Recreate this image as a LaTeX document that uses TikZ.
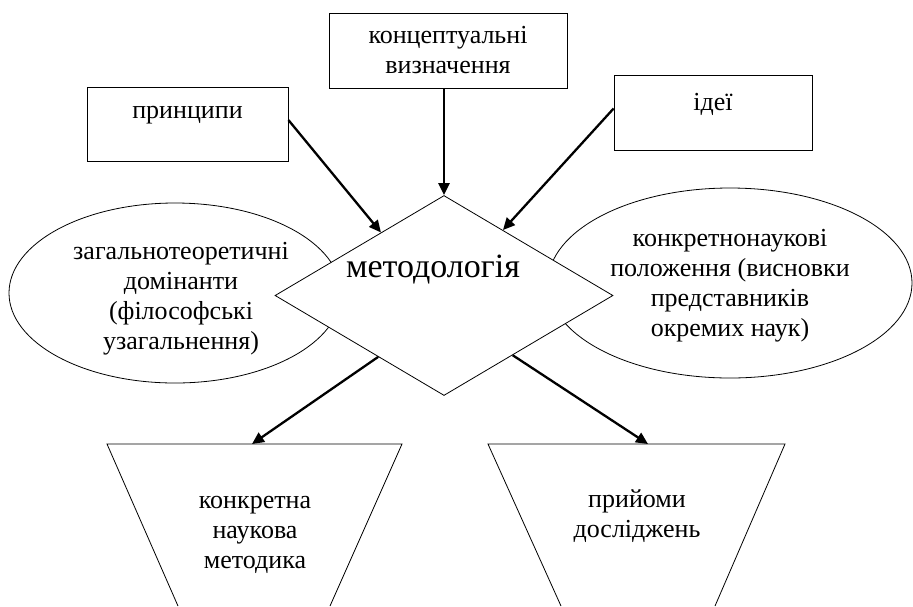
\documentclass[tikz,border=0pt]{standalone}
\usepackage{fontspec}
\setmainfont{Liberation Serif}
\usetikzlibrary{arrows.meta, shapes.geometric}

\begin{document}
\begin{tikzpicture}[x=1pt, y=-1pt, >={Triangle[length=12pt, width=11pt]},
    txt/.style={font=\fontsize{26}{30}\selectfont, align=center},
    box/.style={draw, line width=0.8pt, inner sep=0pt},
    oval/.style={draw, ellipse, line width=0.8pt, inner sep=0pt},
    feed/.style={->, line width=2.3pt}]
        \useasboundingbox (0,0) rectangle (913,606);

        % --- sources on top ---
        \node[box, minimum width=201pt, minimum height=74pt] (princ) at (187.5,124) {};
        \node[txt] (princlbl) at (187.5,115) {принципи};
        \node[box, txt, minimum width=238pt, minimum height=75pt] (concept) at (448,50.5) {концептуальні\\визначення};
        \node[box, minimum width=198pt, minimum height=75pt] (ideas) at (713,112.5) {};
        \node[txt] (ideaslbl) at (713,104) {ідеї};

        % --- side ellipses, partly under the diamond ---
        \node[oval, minimum width=332pt, minimum height=180pt] (general) at (175,293) {};
        \node[txt] (generallbl) at (181,299) {загальнотеоретичні\\домінанти\\(філософські\\узагальнення)};
        \node[oval, minimum width=364pt, minimum height=190pt] (special) at (730,283) {};
        \node[txt] (speciallbl) at (730,286) {конкретнонаукові\\положення (висновки\\представників\\окремих наук)};

        % --- methodology ---
        \node[draw, diamond, fill=white, line width=0.8pt, inner sep=0pt,
              minimum width=338pt, minimum height=200pt] (meth) at (444,295.5) {};
        \node[font=\fontsize{34}{38}\selectfont] (methlbl) at (433,270) {методологія};

        % --- results below, cut by the page edge ---
        \draw[line width=0.8pt] (178,606) -- (107,444) -- (402,444) -- (330,606);
        \draw[line width=0.8pt] (561,606) -- (488,444) -- (785,444) -- (715,606);
        \node[txt] (method) at (255,535) {конкретна\\наукова\\методика};
        \node[txt] (techn) at (637,516) {прийоми\\досліджень};
        \coordinate (methtop) at (252,444);
        \coordinate (techtop) at (648,444);

        % --- arrows ---
        \draw[feed] ([yshift=4pt]princ.east) -- (meth.135);
        \draw[feed] (concept.south -| meth.north) -- (meth.north);
        \draw[feed] ([yshift=4pt]ideas.west) -- (meth.48);
        \draw[feed] (meth.223) -- (methtop);
        \draw[feed] (meth.319) -- (techtop);
\end{tikzpicture}
\end{document}
